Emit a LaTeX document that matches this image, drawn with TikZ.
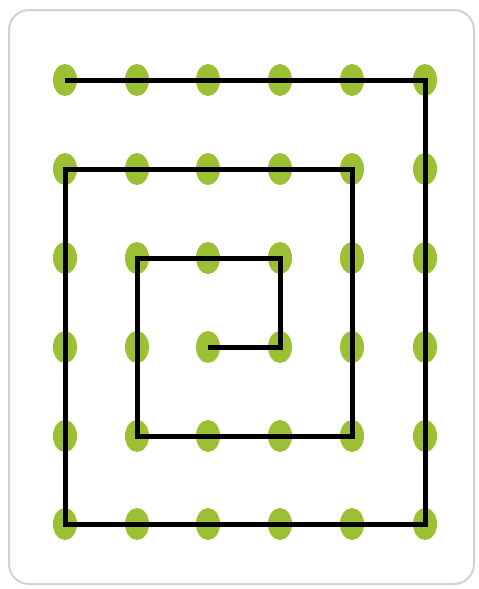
\documentclass[tikz,border=0pt]{standalone}
\usetikzlibrary{shapes.geometric}

\definecolor{dotgreen}{RGB}{155,192,52}

\tikzset{
    dot/.style={draw=none, ellipse, fill=dotgreen, minimum width=0.72cm, minimum height=0.96cm, inner sep=0pt},
    spiral/.style={line width=0.15cm, black, line join=miter}
}

\begin{document}
\begin{tikzpicture}[x=0.03cm,y=-0.03cm]
    \useasboundingbox (0,0) rectangle (479,589);
    \draw[gray!35, line width=0.06cm, rounded corners=0.6cm] (9,10) rectangle (474,584);
    % grid of dots
    \foreach \x [count=\i] in {65,137,208,280,352,425}
        \foreach \y [count=\j] in {80,169,258,347,436,524}
            \node[dot] (d-\i-\j) at (\x,\y) {};
    % the spiral
    \draw[spiral] (d-1-1.center) -- (d-6-1.center) -- (d-6-6.center) -- (d-1-6.center)
        -- (d-1-2.center) -- (d-5-2.center) -- (d-5-5.center) -- (d-2-5.center)
        -- (d-2-3.center) -- (d-4-3.center) -- (d-4-4.center) -- (d-3-4.center);
\end{tikzpicture}
\end{document}
